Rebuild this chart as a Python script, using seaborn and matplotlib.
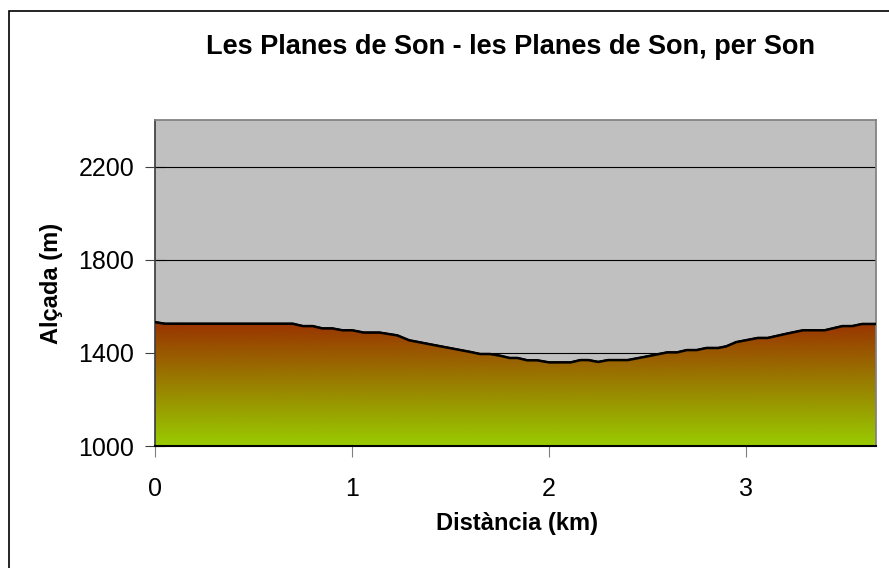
import matplotlib
matplotlib.use("Agg")
import matplotlib.pyplot as plt
import seaborn as sns
import numpy as np
import pandas as pd
from matplotlib.colors import LinearSegmentedColormap
from matplotlib.patches import Rectangle

# elevation profile
distance_km = [0.00, 0.05, 0.70, 0.75, 0.80, 0.85, 0.90, 0.95, 1.00, 1.06, 1.14,
               1.23, 1.29, 1.45, 1.60, 1.65, 1.70, 1.75, 1.80, 1.84, 1.89, 1.94,
               2.00, 2.11, 2.16, 2.20, 2.25, 2.30, 2.40, 2.50, 2.60, 2.65, 2.70,
               2.75, 2.80, 2.86, 2.90, 2.95, 3.06, 3.11, 3.21, 3.29, 3.40, 3.49,
               3.54, 3.59, 3.66]
altitude_m = [1532, 1525, 1525, 1515, 1515, 1505, 1505, 1497, 1497, 1487, 1487,
              1475, 1454, 1428, 1404, 1395, 1395, 1388, 1378, 1378, 1368, 1368,
              1359, 1359, 1369, 1369, 1361, 1369, 1369, 1385, 1402, 1402, 1412,
              1412, 1421, 1421, 1428, 1446, 1464, 1464, 1483, 1497, 1497, 1515,
              1515, 1524, 1524]

y_ticks = [1000, 1400, 1800, 2200]
x_ticks = [0, 1, 2, 3]
title = "Les Planes de Son - les Planes de Son, per Son"

df = pd.DataFrame({"km": distance_km, "alt": altitude_m})

sns.set_theme(style="white")
plt.rcParams["font.family"] = ["Liberation Sans", "DejaVu Sans"]
plt.rcParams["text.color"] = "black"
plt.rcParams["axes.labelcolor"] = "black"
plt.rcParams["xtick.labelcolor"] = "black"
plt.rcParams["ytick.labelcolor"] = "black"

fig = plt.figure(figsize=(8.89, 5.68), dpi=100)
ax = fig.add_axes([155 / 889, 1 - 446 / 568, 721 / 889, 326 / 568])
ax.set_facecolor("#c0c0c0")

ymin, ymax = 1000, 2400
xmax = 3.66

# gradient fill clipped to the area under the profile
cmap = LinearSegmentedColormap.from_list("terrain", ["#99cc00", "#993300"])
poly = ax.fill_between(df["km"], ymin, df["alt"], color="none", edgecolor="black", linewidth=1.5, zorder=2)
grad = np.linspace(0, 1, 256).reshape(-1, 1)
top = df["alt"].max()
img = ax.imshow(grad, cmap=cmap, origin="lower", aspect="auto",
                extent=[0, xmax, ymin, top], zorder=2)
img.set_clip_path(poly.get_paths()[0], transform=ax.transData)

sns.lineplot(data=df, x="km", y="alt", color="black", linewidth=1.8, ax=ax, zorder=3)

ax.set_xlim(0, xmax)
ax.set_ylim(ymin, ymax)
ax.set_yticks(y_ticks)
ax.set_xticks(x_ticks)
for y in y_ticks[1:]:
    ax.axhline(y, color="black", linewidth=0.8, zorder=1)

for side in ["top", "right"]:
    ax.spines[side].set_color("#808080")
ax.spines["left"].set_color("#404040")
ax.spines["bottom"].set_color("black")
ax.spines["bottom"].set_linewidth(1.5)

ax.tick_params(axis="y", direction="inout", length=14, width=0.8, color="#404040",
               labelsize=18, pad=8, left=True)
ax.tick_params(axis="x", direction="out", length=8, width=0.8, color="#808080",
               labelsize=18, pad=14, bottom=True)

ax.set_xlabel("Distància (km)", fontsize=17, fontweight="bold")
ax.set_ylabel("Alçada (m)", fontsize=17, fontweight="bold")
ax.xaxis.set_label_coords((517 - 155) / 721, (446 - 512) / 326)
ax.yaxis.set_label_coords((63 - 155) / 721, 0.5)

fig.text(511 / 889, 1 - 47 / 568, title, ha="center", va="center",
         fontsize=19.5, fontweight="bold")

fig.patches.append(Rectangle((9 / 889, -0.1), 1.2, 1 - 11 / 568 + 0.1,
                             transform=fig.transFigure, fill=False,
                             edgecolor="black", linewidth=1.2))

fig.savefig("out.png", dpi=100)
